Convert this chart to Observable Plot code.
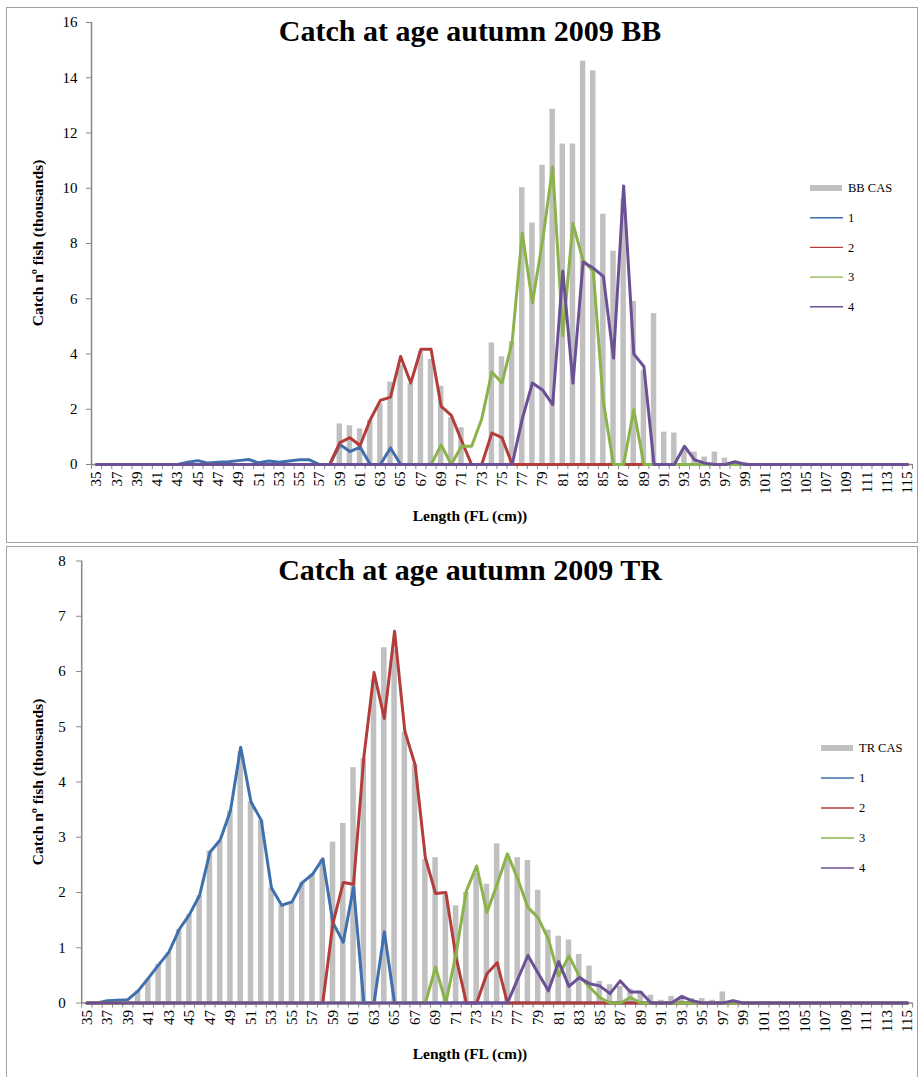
<!DOCTYPE html>
<html>
<head>
<meta charset="utf-8">
<script src="https://cdn.jsdelivr.net/npm/d3@7"></script>
<script src="https://cdn.jsdelivr.net/npm/@observablehq/plot@0.6"></script>
<style>
  html, body { margin: 0; padding: 0; background: #fff; overflow: hidden; }
  #page { position: relative; width: 920px; height: 1077px; font-family: "Liberation Serif", "Times New Roman", serif; color: #000; }
  .panel { position: absolute; left: 6px; width: 912px; box-sizing: border-box; border: 1px solid #a0a0a0; background: #fff; overflow: hidden; }
  .panel svg { position: absolute; left: 0; top: 0; overflow: visible; }
</style>
</head>
<body>
<div id="page">
  <div class="panel" id="bb" style="top:7px;height:536px"></div>
  <div class="panel" id="tr" style="top:546px;height:533px"></div>
</div>
<script>
// Length classes (fork length, cm)
const lengths = [
  35, 36, 37, 38, 39, 40, 41, 42, 43, 44,
  45, 46, 47, 48, 49, 50, 51, 52, 53, 54,
  55, 56, 57, 58, 59, 60, 61, 62, 63, 64,
  65, 66, 67, 68, 69, 70, 71, 72, 73, 74,
  75, 76, 77, 78, 79, 80, 81, 82, 83, 84,
  85, 86, 87, 88, 89, 90, 91, 92, 93, 94,
  95, 96, 97, 98, 99, 100, 101, 102, 103, 104,
  105, 106, 107, 108, 109, 110, 111, 112, 113, 114,
  115
];
// Every other class is labelled on the x axis
const lengthLabels = [35, 37, 39, 41, 43, 45, 47, 49, 51, 53, 55, 57, 59, 61, 63, 65, 67, 69, 71, 73, 75,
  77, 79, 81, 83, 85, 87, 89, 91, 93, 95, 97, 99, 101, 103, 105, 107, 109, 111, 113, 115];

const ageNames = ["1", "2", "3", "4"];

// ---- Bay of Biscay (BB), autumn 2009, catch in thousands ----
const bbCas = [
  0, 0, 0, 0, 0, 0, 0, 0, 0, 0,
  0, 0, 0, 0, 0, 0, 0, 0, 0, 0,
  0, 0, 0, 0, 1.47, 1.40, 1.29, 1.60, 2.20, 2.98,
  3.60, 2.92, 4.10, 3.80, 2.83, 1.70, 1.33, 0, 0, 4.40,
  3.90, 4.45, 10.02, 8.74, 10.83, 12.86, 11.60, 11.60, 14.60, 14.25,
  9.06, 7.72, 9.60, 5.90, 3.40, 5.46, 1.17, 1.14, 0.50, 0.45,
  0.27, 0.45, 0.23, 0.10, 0.08, 0, 0, 0, 0, 0,
  0, 0, 0, 0, 0, 0, 0, 0, 0, 0,
  0
];
const bbAge1 = [
  0, 0, 0, 0, 0, 0, 0, 0, 0, 0.08,
  0.14, 0.05, 0.08, 0.10, 0.14, 0.18, 0.06, 0.13, 0.08, 0.13,
  0.17, 0.17, 0, 0, 0.72, 0.47, 0.63, 0, 0, 0.60,
  0, 0, 0, 0, 0, 0, 0, 0, 0, 0,
  0, 0, 0, 0, 0, 0, 0, 0, 0, 0,
  0, 0, 0, 0, 0, 0, 0, 0, 0, 0,
  0, 0, 0, 0, 0, 0, 0, 0, 0, 0,
  0, 0, 0, 0, 0, 0, 0, 0, 0, 0,
  0
];
const bbAge2 = [
  0, 0, 0, 0, 0, 0, 0, 0, 0, 0,
  0, 0, 0, 0, 0, 0, 0, 0, 0, 0,
  0, 0, 0, 0, 0.79, 0.97, 0.69, 1.62, 2.32, 2.44,
  3.91, 2.95, 4.17, 4.17, 2.10, 1.78, 0.87, 0, 0, 1.14,
  0.97, 0, 0, 0, 0, 0, 0, 0, 0, 0,
  0, 0, 0, 0, 0, 0, 0, 0, 0, 0,
  0, 0, 0, 0, 0, 0, 0, 0, 0, 0,
  0, 0, 0, 0, 0, 0, 0, 0, 0, 0,
  0
];
const bbAge3 = [
  0, 0, 0, 0, 0, 0, 0, 0, 0, 0,
  0, 0, 0, 0, 0, 0, 0, 0, 0, 0,
  0, 0, 0, 0, 0, 0, 0, 0, 0, 0,
  0, 0, 0, 0, 0.71, 0, 0.66, 0.66, 1.65, 3.35,
  2.95, 4.43, 8.38, 5.85, 8.10, 10.77, 4.67, 8.72, 7.39, 7.00,
  2.26, 0, 0, 1.98, 0, 0, 0, 0, 0, 0,
  0, 0, 0, 0, 0, 0, 0, 0, 0, 0,
  0, 0, 0, 0, 0, 0, 0, 0, 0, 0,
  0
];
const bbAge4 = [
  0, 0, 0, 0, 0, 0, 0, 0, 0, 0,
  0, 0, 0, 0, 0, 0, 0, 0, 0, 0,
  0, 0, 0, 0, 0, 0, 0, 0, 0, 0,
  0, 0, 0, 0, 0, 0, 0, 0, 0, 0,
  0, 0, 1.65, 2.95, 2.70, 2.17, 7.00, 2.95, 7.33, 7.11,
  6.81, 3.85, 10.08, 4.00, 3.55, 0, 0, 0, 0.66, 0.17,
  0.05, 0, 0, 0.10, 0, 0, 0, 0, 0, 0,
  0, 0, 0, 0, 0, 0, 0, 0, 0, 0,
  0
];

// ---- TR fleet, autumn 2009, catch in thousands ----
const trCas = [
  0, 0, 0, 0, 0, 0.22, 0.43, 0.70, 0.91, 1.33,
  1.60, 1.94, 2.75, 2.93, 3.48, 4.55, 3.64, 3.31, 2.08, 1.77,
  1.83, 2.18, 2.33, 2.60, 2.91, 3.25, 4.26, 4.42, 5.85, 6.43,
  6.40, 4.90, 4.32, 2.60, 2.63, 1.95, 1.76, 2.00, 2.35, 2.15,
  2.88, 2.60, 2.63, 2.58, 2.04, 1.32, 1.21, 1.14, 0.88, 0.67,
  0.39, 0.33, 0.30, 0.25, 0.20, 0.14, 0.05, 0.12, 0.10, 0.08,
  0.08, 0.05, 0.20, 0.05, 0, 0, 0, 0, 0, 0,
  0, 0, 0, 0, 0, 0, 0, 0, 0, 0,
  0
];
const trAge1 = [
  0, 0, 0.04, 0.05, 0.06, 0.22, 0.45, 0.69, 0.92, 1.33,
  1.60, 1.95, 2.73, 2.95, 3.48, 4.63, 3.64, 3.31, 2.08, 1.77,
  1.83, 2.18, 2.33, 2.61, 1.45, 1.10, 2.10, 0, 0, 1.29,
  0, 0, 0, 0, 0, 0, 0, 0, 0, 0,
  0, 0, 0, 0, 0, 0, 0, 0, 0, 0,
  0, 0, 0, 0, 0, 0, 0, 0, 0, 0,
  0, 0, 0, 0, 0, 0, 0, 0, 0, 0,
  0, 0, 0, 0, 0, 0, 0, 0, 0, 0,
  0
];
const trAge2 = [
  0, 0, 0, 0, 0, 0, 0, 0, 0, 0,
  0, 0, 0, 0, 0, 0, 0, 0, 0, 0,
  0, 0, 0, 0, 1.45, 2.18, 2.15, 4.44, 5.98, 5.15,
  6.73, 4.92, 4.31, 2.63, 1.98, 2.00, 0.82, 0, 0, 0.53,
  0.73, 0, 0, 0, 0, 0, 0, 0, 0, 0,
  0, 0, 0, 0, 0, 0, 0, 0, 0, 0,
  0, 0, 0, 0, 0, 0, 0, 0, 0, 0,
  0, 0, 0, 0, 0, 0, 0, 0, 0, 0,
  0
];
const trAge3 = [
  0, 0, 0, 0, 0, 0, 0, 0, 0, 0,
  0, 0, 0, 0, 0, 0, 0, 0, 0, 0,
  0, 0, 0, 0, 0, 0, 0, 0, 0, 0,
  0, 0, 0, 0, 0.65, 0, 0.90, 2.03, 2.48, 1.64,
  2.15, 2.70, 2.25, 1.73, 1.54, 1.15, 0.49, 0.85, 0.49, 0.29,
  0.10, 0, 0, 0.10, 0, 0, 0, 0, 0, 0,
  0, 0, 0, 0, 0, 0, 0, 0, 0, 0,
  0, 0, 0, 0, 0, 0, 0, 0, 0, 0,
  0
];
const trAge4 = [
  0, 0, 0, 0, 0, 0, 0, 0, 0, 0,
  0, 0, 0, 0, 0, 0, 0, 0, 0, 0,
  0, 0, 0, 0, 0, 0, 0, 0, 0, 0,
  0, 0, 0, 0, 0, 0, 0, 0, 0, 0,
  0, 0, 0.43, 0.86, 0.54, 0.22, 0.75, 0.30, 0.46, 0.35,
  0.31, 0.17, 0.40, 0.20, 0.20, 0, 0, 0, 0.12, 0.04,
  0, 0, 0, 0.04, 0, 0, 0, 0, 0, 0,
  0, 0, 0, 0, 0, 0, 0, 0, 0, 0,
  0
];

const bbTicks = [0, 2, 4, 6, 8, 10, 12, 14, 16];
const trTicks = [0, 1, 2, 3, 4, 5, 6, 7, 8];

// Styling
const serif = "'Liberation Serif', 'Times New Roman', serif";
const axisGray = "#868686";
const casColor = "#c0c0c0";
const ageColors = ["#3f70ad", "#b33d3a", "#8bb34b", "#6c5096"];

function drawPanel(el, cfg) {
  const barRows = lengths.map((len, i) => ({len, value: cfg.cas[i]}));
  const lineRows = cfg.ages.flatMap((vals, k) =>
    lengths.map((len, i) => ({len, value: vals[i], age: ageNames[k]})));
  const boundaries = lengths.map(l => l - 0.5).concat([lengths[lengths.length - 1] + 0.5]);
  const x0 = lengths[0] - 0.5, x1 = lengths[lengths.length - 1] + 0.5;

  const chart = Plot.plot({
    width: 910,
    height: cfg.height,
    marginLeft: cfg.ml,
    marginRight: cfg.mr,
    marginTop: cfg.mt,
    marginBottom: cfg.mb,
    style: {fontFamily: serif, fontSize: "15px", color: "#000", background: "transparent"},
    x: {type: "linear", domain: [x0, x1]},
    y: {domain: [0, cfg.ticks[cfg.ticks.length - 1]]},
    color: {domain: ageNames, range: ageColors},
    marks: [
      Plot.rectY(barRows, {x1: d => d.len - 0.27, x2: d => d.len + 0.27, y1: 0, y2: "value", fill: casColor}),
      Plot.ruleX([x0], {stroke: axisGray, strokeWidth: 1.5}),
      Plot.ruleY([0], {stroke: axisGray, strokeWidth: 1.5}),
      Plot.axisY(cfg.ticks, {tickSize: 5, tickPadding: cfg.ytp, stroke: axisGray, label: null, tickFormat: d3.format("d")}),
      Plot.axisX(boundaries, {tickSize: 5, tickFormat: () => "", stroke: axisGray, label: null}),
      Plot.axisX(lengthLabels, {tickSize: 0, tickRotate: -90, tickPadding: 7, label: null, tickFormat: d => String(d)}),
      Plot.line(lineRows, {x: "len", y: "value", z: "age", stroke: "age", strokeWidth: 3, strokeLinejoin: "round", strokeLinecap: "round"})
    ]
  });
  el.appendChild(chart);

  // Title, axis titles and legend
  const svg = d3.select(el).append("svg")
    .attr("width", 910).attr("height", cfg.height)
    .style("font-family", serif);
  svg.append("text")
    .attr("x", cfg.titleX).attr("y", 33)
    .attr("text-anchor", "middle").attr("font-weight", "bold").attr("font-size", 30)
    .text(cfg.title);
  svg.append("text")
    .attr("transform", `translate(31,${cfg.yTitleY}) rotate(-90)`)
    .attr("dy", "0.35em")
    .attr("text-anchor", "middle").attr("font-weight", "bold").attr("font-size", 15.5)
    .text("Catch nº fish  (thousands)");
  svg.append("text")
    .attr("x", cfg.titleX).attr("y", cfg.xTitleY)
    .attr("text-anchor", "middle").attr("font-weight", "bold").attr("font-size", 15.5)
    .text("Length (FL (cm))");

  const lg = svg.append("g").attr("transform", `translate(${cfg.legendX},${cfg.legendY})`);
  const items = [{name: cfg.casName, kind: "bar", color: casColor}]
    .concat(ageNames.map((n, k) => ({name: n, kind: "line", color: ageColors[k]})));
  items.forEach((it, i) => {
    const g = lg.append("g").attr("transform", `translate(0,${i * cfg.legendStep})`);
    if (it.kind === "bar") {
      g.append("rect").attr("x", 0).attr("y", -3).attr("width", 32).attr("height", 6).attr("fill", it.color);
    } else {
      g.append("line").attr("x1", 0).attr("x2", 33).attr("y1", 0).attr("y2", 0)
        .attr("stroke", it.color).attr("stroke-width", 1.4);
    }
    g.append("text").attr("x", 38).attr("dy", "0.33em").attr("font-size", 12.5).text(it.name);
  });
}

drawPanel(document.getElementById("bb"), {
  title: "Catch at age autumn 2009 BB",
  casName: "BB CAS",
  cas: bbCas,
  ages: [bbAge1, bbAge2, bbAge3, bbAge4],
  ticks: bbTicks,
  height: 534, ml: 84, mr: 5, mt: 14, mb: 78, ytp: 9,
  titleX: 463, yTitleY: 235, xTitleY: 513,
  legendX: 803, legendY: 180, legendStep: 29.7
});

drawPanel(document.getElementById("tr"), {
  title: "Catch at age autumn 2009 TR",
  casName: "TR CAS",
  cas: trCas,
  ages: [trAge1, trAge2, trAge3, trAge4],
  ticks: trTicks,
  height: 531, ml: 74.2, mr: 4.9, mt: 13.5, mb: 75.5, ytp: 11,
  titleX: 463, yTitleY: 235, xTitleY: 512,
  legendX: 814, legendY: 201, legendStep: 30
});
</script>
</body>
</html>
